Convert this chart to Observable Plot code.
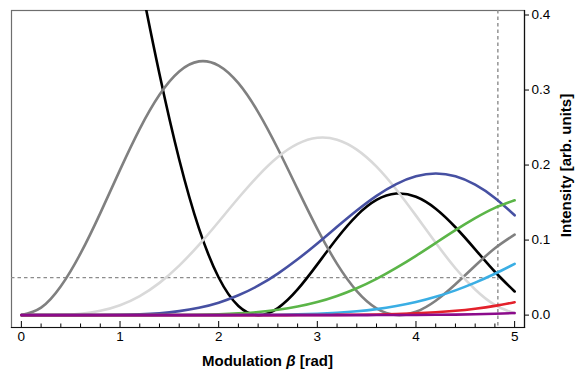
<!DOCTYPE html>
<html>
<head>
<meta charset="utf-8">
<script src="https://cdn.jsdelivr.net/npm/d3@7"></script>
<script src="https://cdn.jsdelivr.net/npm/@observablehq/plot@0.6"></script>
<style>
  body { margin: 0; background: #fff; }
  #chart { width: 580px; height: 377px; }
</style>
</head>
<body>
<div id="chart"></div>
<script>
// Modulation depth beta [rad]
const beta = [0, 0.2, 0.4, 0.6, 0.8, 1.0, 1.2, 1.4, 1.6, 1.8, 2.0, 2.2, 2.4, 2.6, 2.8, 3.0, 3.2, 3.4, 3.6, 3.8, 4.0, 4.2, 4.4, 4.6, 4.8, 5.0];

// Sideband intensities (order 0 … 7)
const order0 = [1, 0.9801, 0.9224, 0.8317, 0.7162, 0.5855, 0.4504, 0.3213, 0.2074, 0.1156, 0.0501, 0.0122, 0.0000, 0.0094, 0.0342, 0.0676, 0.1025, 0.1327, 0.1535, 0.1620, 0.1577, 0.1418, 0.1171, 0.0877, 0.0578, 0.0315];
const order1 = [0, 0.0099, 0.0384, 0.0822, 0.1360, 0.1936, 0.2483, 0.2937, 0.3248, 0.3382, 0.3326, 0.3091, 0.2706, 0.2217, 0.1679, 0.1150, 0.0683, 0.0321, 0.0091, 0.0002, 0.0044, 0.0192, 0.0411, 0.0658, 0.0891, 0.1073];
const order2 = [0, 0.0000, 0.0004, 0.0019, 0.0057, 0.0132, 0.0254, 0.0430, 0.0660, 0.0937, 0.1245, 0.1561, 0.1857, 0.2107, 0.2282, 0.2363, 0.2338, 0.2206, 0.1979, 0.1675, 0.1326, 0.0964, 0.0625, 0.0341, 0.0135, 0.0022];
const order3 = [0, 0, 0.0000, 0.0000, 0.0001, 0.0004, 0.0011, 0.0025, 0.0053, 0.0098, 0.0166, 0.0264, 0.0392, 0.0554, 0.0744, 0.0955, 0.1177, 0.1394, 0.1590, 0.1747, 0.1850, 0.1887, 0.1850, 0.1739, 0.1562, 0.1331];
const order4 = [0, 0, 0, 0, 0.0000, 0.0000, 0.0000, 0.0001, 0.0002, 0.0005, 0.0012, 0.0023, 0.0041, 0.0071, 0.0114, 0.0174, 0.0255, 0.0358, 0.0483, 0.0629, 0.0790, 0.0961, 0.1132, 0.1292, 0.1429, 0.1531];
const order5 = [0, 0, 0, 0, 0, 0, 0, 0, 0, 0.0000, 0.0000, 0.0001, 0.0003, 0.0005, 0.0010, 0.0019, 0.0032, 0.0051, 0.0080, 0.0121, 0.0174, 0.0244, 0.0330, 0.0433, 0.0551, 0.0682];
const order6 = [0, 0, 0, 0, 0, 0, 0, 0, 0, 0, 0, 0, 0, 0.0000, 0.0001, 0.0001, 0.0003, 0.0005, 0.0009, 0.0015, 0.0024, 0.0038, 0.0058, 0.0086, 0.0123, 0.0172];
const order7 = [0, 0, 0, 0, 0, 0, 0, 0, 0, 0, 0, 0, 0, 0, 0, 0, 0, 0, 0.0001, 0.0001, 0.0002, 0.0004, 0.0007, 0.0011, 0.0018, 0.0028];

const seriesValues = [order0, order1, order2, order3, order4, order5, order6, order7];
const seriesColors = ["#000000", "#808080", "#d9d9d9", "#4650a2", "#5bb548", "#3aaee4", "#e3212b", "#8b0b8b"];

const xTicks = [0, 1, 2, 3, 4, 5];
const xMinorTicks = [0.2, 0.4, 0.6, 0.8, 1.2, 1.4, 1.6, 1.8, 2.2, 2.4, 2.6, 2.8, 3.2, 3.4, 3.6, 3.8, 4.2, 4.4, 4.6, 4.8];
const yTicks = [0, 0.1, 0.2, 0.3, 0.4];
const xDomain = [-0.1, 5.1];
const yDomain = [-0.0165, 0.406];
const refBeta = 4.83;
const refLevel = 0.05;

const xLabel = ["Modulation ", "β", " [rad]"];
const yLabel = "Intensity [arb. units]";

const W = 580, H = 377;
const mL = 11, mR = 56, mT = 10, mB = 50;

const lineMarks = seriesValues.map((vals, i) =>
  Plot.line(beta.map((b, k) => ({beta: b, I: vals[k]})), {
    x: "beta", y: "I", stroke: seriesColors[i], strokeWidth: 2.6,
    curve: "natural", clip: true
  })
);

const chart = Plot.plot({
  width: W, height: H,
  marginLeft: mL, marginRight: mR, marginTop: mT, marginBottom: mB,
  style: {fontFamily: "'Liberation Sans', Arial, Helvetica, sans-serif", fontSize: "13px", background: "#fff", color: "#000"},
  x: {domain: xDomain},
  y: {domain: yDomain},
  marks: [
    Plot.frame({stroke: "#6e6e6e", strokeWidth: 1.2}),
    Plot.ruleX([refBeta], {stroke: "#8c8c8c", strokeWidth: 1.4, strokeDasharray: "3.5,3"}),
    Plot.ruleY([refLevel], {x1: xDomain[0], x2: refBeta, stroke: "#8c8c8c", strokeWidth: 1.4, strokeDasharray: "3.5,3"}),
    ...lineMarks,
    Plot.frame({anchor: "bottom", stroke: "#111", strokeWidth: 1.2}),
    Plot.frame({anchor: "right", stroke: "#111", strokeWidth: 1.2}),
    Plot.axisX({ticks: xTicks, tickSize: -6, text: null, label: null}),
    Plot.axisX({ticks: xMinorTicks, tickSize: -3.5, text: null, label: null}),
    Plot.axisX({ticks: xTicks, tickSize: 0, tickPadding: 4, tickFormat: d3.format("d"), label: null, fontSize: 13.5}),
    Plot.axisY({anchor: "right", ticks: yTicks, tickSize: 4, tickPadding: 3, tickFormat: d3.format(".1f"), label: null, fontSize: 13.5})
  ]
});

document.getElementById("chart").appendChild(chart);

const svg = d3.select(chart);
const xl = svg.append("text")
  .attr("x", (mL + W - mR) / 2)
  .attr("y", 366)
  .attr("text-anchor", "middle")
  .style("font-weight", "bold")
  .style("font-size", "15px")
  .attr("fill", "#000");
xLabel.forEach((s, i) => {
  const t = xl.append("tspan").text(s);
  if (i === 1) t.style("font-style", "italic");
});
svg.append("text")
  .attr("transform", `translate(571, ${(mT + H - mB) / 2 - 3}) rotate(-90)`)
  .attr("text-anchor", "middle")
  .style("font-weight", "bold")
  .style("font-size", "15px")
  .attr("fill", "#000")
  .text(yLabel);
</script>
</body>
</html>
